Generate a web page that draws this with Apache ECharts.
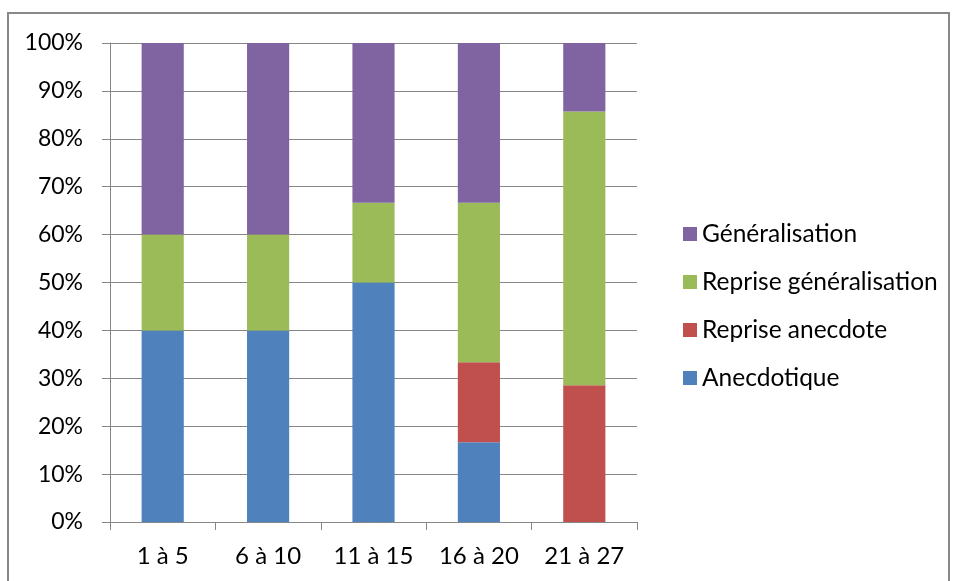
<!DOCTYPE html>
<html><head><meta charset="utf-8">
<script src="https://cdn.jsdelivr.net/npm/echarts@6/dist/echarts.min.js"></script>
<style>html,body{margin:0;padding:0;background:#fff;}#c{width:956px;height:581px;}</style>
</head><body><div id="c"></div>
<script>
var categories = ['1 à 5', '6 à 10', '11 à 15', '16 à 20', '21 à 27'];
var anecdotique = [40, 40, 50, 16.67, 0];
var repriseAnecdote = [0, 0, 0, 16.67, 28.57];
var repriseGeneralisation = [20, 20, 16.67, 33.33, 57.14];
var generalisation = [40, 40, 33.33, 33.33, 14.29];
var yTicks = [0, 10, 20, 30, 40, 50, 60, 70, 80, 90, 100];

var FONT = 'Lato';
var chart = echarts.init(document.getElementById('c'));
function bar(name, data, color) {
  return { name: name, type: 'bar', stack: 'total', data: data, barCategoryGap: '60%',
    itemStyle: { color: color }, emphasis: { disabled: true } };
}
chart.setOption({
  animation: false,
  textStyle: { fontFamily: FONT },
  graphic: [{ type: 'rect', shape: { x: 8, y: 13, width: 941, height: 590 },
    style: { fill: 'none', stroke: '#888888', lineWidth: 2 }, silent: true }],
  grid: { left: 110, top: 43, width: 527, height: 479, containLabel: false },
  legend: {
    orient: 'vertical', left: 678, top: 216, icon: 'rect', itemWidth: 14, itemHeight: 14,
    itemGap: 22,
    textStyle: { fontFamily: FONT, fontSize: 24.5, color: '#000', lineHeight: 26 },
    data: ['Généralisation', 'Reprise généralisation', 'Reprise anecdote', 'Anecdotique']
  },
  xAxis: {
    type: 'category', data: categories,
    axisLine: { lineStyle: { color: '#868686', width: 1 } },
    axisTick: { show: true, length: 8, lineStyle: { color: '#868686' } },
    axisLabel: { fontFamily: FONT, fontSize: 24, color: '#000', margin: 22 }
  },
  yAxis: {
    type: 'value', min: 0, max: 100, interval: 10,
    axisLine: { show: true, lineStyle: { color: '#868686', width: 1 } },
    axisTick: { show: true, length: 8, inside: false, lineStyle: { color: '#868686' } },
    splitLine: { lineStyle: { color: '#868686', width: 1 } },
    axisLabel: { fontFamily: FONT, fontSize: 23, color: '#000', margin: 27,
      formatter: function (v) { return yTicks.indexOf(v) >= 0 ? v + '%' : ''; } }
  },
  series: [
    bar('Anecdotique', anecdotique, '#4F81BD'),
    bar('Reprise anecdote', repriseAnecdote, '#C0504D'),
    bar('Reprise généralisation', repriseGeneralisation, '#9BBB59'),
    bar('Généralisation', generalisation, '#8064A2')
  ]
});
</script></body></html>
